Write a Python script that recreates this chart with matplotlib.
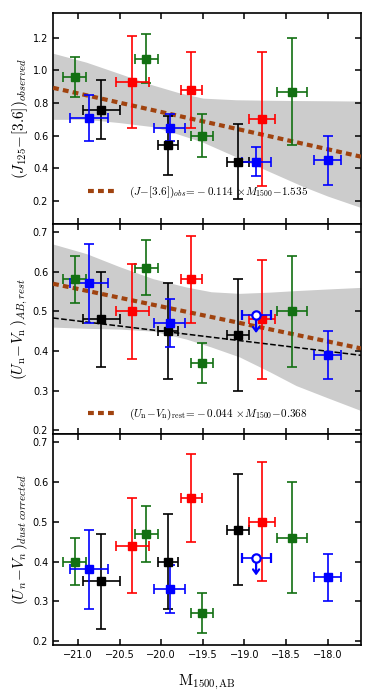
import numpy as np
import matplotlib
matplotlib.use("Agg")
import matplotlib.pyplot as plt

plt.rcParams["mathtext.fontset"] = "cm"

# ---- data ----
XLIM = (-21.3, -17.6)

# green points
green_M = [-21.04, -20.18, -19.51, -18.43]
green_xerr = [0.14, 0.14, 0.135, 0.18]
green_obs = [0.96, 1.07, 0.60, 0.87]
green_obs_err = [0.12, 0.15, 0.13, 0.33]
green_rest = [0.58, 0.61, 0.37, 0.50]
green_rest_err = [0.06, 0.07, 0.05, 0.14]
green_dust = [0.40, 0.47, 0.27, 0.46]
green_dust_err = [0.06, 0.07, 0.05, 0.14]

# blue points (third one is an upper limit in the two lower panels)
blue_M = [-20.87, -19.90, -18.86, -18.00]
blue_xerr = [0.23, 0.19, 0.175, 0.16]
blue_obs = [0.71, 0.65, 0.44, 0.45]
blue_obs_err = [0.14, 0.08, 0.09, 0.15]
blue_rest = [0.57, 0.47, 0.49, 0.39]
blue_rest_err = [0.10, 0.06, 0.0, 0.06]
blue_dust = [0.38, 0.33, 0.41, 0.36]
blue_dust_err = [0.10, 0.06, 0.0, 0.06]
blue_is_limit = [False, False, True, False]

# black points
black_M = [-20.72, -19.92, -19.08]
black_xerr = [0.22, 0.125, 0.135]
black_obs = [0.76, 0.54, 0.44]
black_obs_err = [0.18, 0.18, 0.23]
black_rest = [0.48, 0.45, 0.44]
black_rest_err = [0.12, 0.12, 0.14]
black_dust = [0.35, 0.40, 0.48]
black_dust_err = [0.12, 0.12, 0.14]

# red points
red_M = [-20.35, -19.64, -18.79]
red_xerr = [0.20, 0.125, 0.155]
red_obs = [0.93, 0.88, 0.70]
red_obs_err = [0.28, 0.23, 0.41]
red_rest = [0.50, 0.58, 0.48]
red_rest_err = [0.12, 0.11, 0.15]
red_dust = [0.44, 0.56, 0.50]
red_dust_err = [0.12, 0.11, 0.15]

# fits
fit_obs = (-0.114, -1.535)
fit_rest = (-0.044, -0.368)
fit_rest_black = (-0.0254, -0.058)
limit_arrow = 0.045

# shaded envelopes
band1_M = [-21.3, -20.9, -20.5, -20.1, -19.8, -19.5, -19.1, -18.7, -18.3, -18.0, -17.6]
band1_hi = [1.105, 1.05, 0.98, 0.91, 0.865, 0.83, 0.82, 0.817, 0.815, 0.814, 0.812]
band1_lo = [0.70, 0.70, 0.68, 0.655, 0.61, 0.56, 0.47, 0.38, 0.29, 0.23, 0.16]
band2_M = [-21.3, -20.9, -20.5, -20.1, -19.7, -19.4, -19.06, -18.7, -18.38, -18.0, -17.6]
band2_hi = [0.669, 0.645, 0.612, 0.582, 0.561, 0.549, 0.545, 0.548, 0.552, 0.556, 0.56]
band2_lo = [0.46, 0.457, 0.455, 0.45, 0.43, 0.41, 0.385, 0.348, 0.313, 0.282, 0.25]

GREEN = "#127012"
BROWN = "#a0430f"

groups = [
    ("green", GREEN, green_M, green_xerr,
     [(green_obs, green_obs_err), (green_rest, green_rest_err), (green_dust, green_dust_err)], None),
    ("black", "black", black_M, black_xerr,
     [(black_obs, black_obs_err), (black_rest, black_rest_err), (black_dust, black_dust_err)], None),
    ("red", "red", red_M, red_xerr,
     [(red_obs, red_obs_err), (red_rest, red_rest_err), (red_dust, red_dust_err)], None),
    ("blue", "blue", blue_M, blue_xerr,
     [(blue_obs, blue_obs_err), (blue_rest, blue_rest_err), (blue_dust, blue_dust_err)], blue_is_limit),
]

fig, axes = plt.subplots(3, 1, figsize=(3.74, 6.98), dpi=100, sharex=True)
fig.subplots_adjust(left=0.142, right=0.965, top=0.981, bottom=0.076, hspace=0)

ek = dict(fmt="s", ms=5.5, elinewidth=1.2, capsize=3.5, capthick=1.2, zorder=4)

for p, ax in enumerate(axes):
    for name, col, M, xe, vals, lim in groups:
        y, ye = vals[p]
        M = np.array(M); xe = np.array(xe); y = np.array(y); ye = np.array(ye)
        if lim is not None and p > 0:
            m = np.array(lim)
        else:
            m = np.zeros(len(M), bool)
        ax.errorbar(M[~m], y[~m], xerr=xe[~m], yerr=ye[~m], color=col, mec=col, **ek)
        for xi, xei, yi in zip(M[m], xe[m], y[m]):
            ax.annotate("", xy=(xi, yi - limit_arrow), xytext=(xi, yi),
                        arrowprops=dict(arrowstyle="->,head_width=0.22,head_length=0.3",
                                        color=col, lw=1.6, shrinkA=0, shrinkB=0), zorder=5)
            ax.errorbar([xi], [yi], xerr=[xei], fmt="o", ms=6, mfc="white", mec=col, mew=1.6,
                        color=col, elinewidth=1.2, capsize=3.5, capthick=1.2, zorder=6)

mx = np.linspace(XLIM[0], XLIM[1], 50)

ax = axes[0]
ax.fill_between(band1_M, band1_lo, band1_hi, color="#cccccc", lw=0, zorder=1)
ax.plot(mx, fit_obs[0] * mx + fit_obs[1], color=BROWN, lw=3, ls=(0, (1.4, 1.0)), zorder=3,
        label=r"$(J\!-\![3.6])_{obs}\!=\!-0.114\,\times\! M_{1500}\!-\!1.535$")
ax.set_ylim(0.06, 1.35)
ax.set_yticks([0.2, 0.4, 0.6, 0.8, 1.0, 1.2])
ax.set_ylabel(r"$(J_{125}\!-\![3.6])_{observed}$", fontsize=11, labelpad=2)
ax.legend(loc="lower center", bbox_to_anchor=(0.47, 0.065), frameon=False, fontsize=8,
          handlelength=2.4, handletextpad=1.3)

ax = axes[1]
ax.fill_between(band2_M, band2_lo, band2_hi, color="#cccccc", lw=0, zorder=1)
ax.plot(mx, fit_rest[0] * mx + fit_rest[1], color=BROWN, lw=3, ls=(0, (1.4, 1.0)), zorder=3,
        label=r"$(U_\mathrm{n}\!-\!V_\mathrm{n})_\mathrm{rest}\!=\!-0.044\,\times\! M_{1500}\!-\!0.368$")
ax.plot(mx, fit_rest_black[0] * mx + fit_rest_black[1], color="black", lw=1.1, ls="--", zorder=3)
ax.set_ylim(0.19, 0.72)
ax.set_yticks([0.2, 0.3, 0.4, 0.5, 0.6, 0.7])
ax.set_ylabel(r"$(U_\mathrm{n}\!-\!V_\mathrm{n}\,)_{AB,rest}$", fontsize=11, labelpad=2)
ax.legend(loc="lower center", bbox_to_anchor=(0.47, 0.01), frameon=False, fontsize=8,
          handlelength=2.4, handletextpad=1.3)

ax = axes[2]
ax.set_ylim(0.19, 0.72)
ax.set_yticks([0.2, 0.3, 0.4, 0.5, 0.6, 0.7])
ax.set_ylabel(r"$(U_n\!-\!V_n\,)_{dust\ corrected}$", fontsize=11, labelpad=2)
ax.set_xlabel(r"$\mathrm{M_{1500,AB}}$", fontsize=11, labelpad=9)

for ax in axes:
    ax.set_xlim(*XLIM)
    ax.set_xticks([-21.0, -20.5, -20.0, -19.5, -19.0, -18.5, -18.0])
    ax.tick_params(direction="in", top=True, right=True, length=4, width=1.1, labelsize=7)
    for s in ax.spines.values():
        s.set_linewidth(1.2)

fig.savefig("out.png", dpi=100)
